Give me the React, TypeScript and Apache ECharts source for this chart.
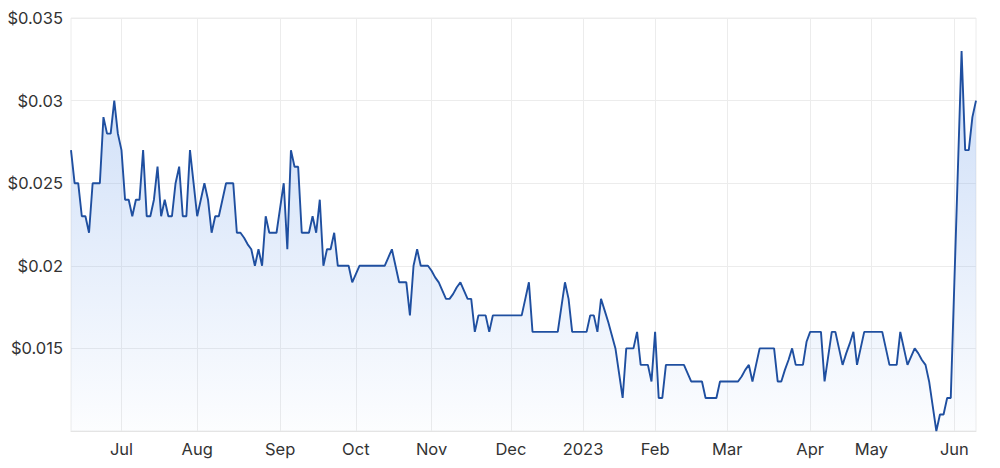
import React, { useEffect, useRef } from 'react';
import * as echarts from 'echarts';

// trading calendar (ASX), one point per trading day
const startDate = '2022-06-10';
const endDate = '2023-06-09';
const holidays = [
  '2022-06-13', '2022-09-22', '2022-12-26', '2022-12-27',
  '2023-01-02', '2023-01-26', '2023-04-07', '2023-04-10', '2023-04-25',
];

// closing prices ($), month by month
const jun22 = [0.027, 0.025, 0.025, 0.023, 0.023, 0.022, 0.025, 0.025, 0.025, 0.029, 0.028, 0.028, 0.030, 0.028];
const jul22 = [0.027, 0.024, 0.024, 0.023, 0.024, 0.024, 0.027, 0.023, 0.023, 0.024, 0.026, 0.023, 0.024, 0.023, 0.023, 0.025, 0.026, 0.023, 0.023, 0.027, 0.025];
const aug22 = [0.023, 0.024, 0.025, 0.024, 0.022, 0.023, 0.023, 0.024, 0.025, 0.025, 0.025, 0.022, 0.022, 0.0217, 0.0213, 0.021, 0.020, 0.021, 0.020, 0.023, 0.022, 0.022, 0.022];
const sep22 = [0.0235, 0.025, 0.021, 0.027, 0.026, 0.026, 0.022, 0.022, 0.022, 0.023, 0.022, 0.024, 0.020, 0.021, 0.021, 0.022, 0.020, 0.020, 0.020, 0.020, 0.019];
const oct22 = [0.0195, 0.020, 0.020, 0.020, 0.020, 0.020, 0.020, 0.020, 0.020, 0.0205, 0.021, 0.020, 0.019, 0.019, 0.019, 0.017, 0.020, 0.021, 0.020, 0.020, 0.020];
const nov22 = [0.0197, 0.0193, 0.019, 0.0185, 0.018, 0.018, 0.0183, 0.0187, 0.019, 0.0185, 0.018, 0.018, 0.016, 0.017, 0.017, 0.017, 0.016, 0.017, 0.017, 0.017, 0.017, 0.017];
const dec22 = [0.017, 0.017, 0.017, 0.017, 0.018, 0.019, 0.016, 0.016, 0.016, 0.016, 0.016, 0.016, 0.016, 0.016, 0.0175, 0.019, 0.018, 0.016, 0.016, 0.016];
const jan23 = [0.016, 0.016, 0.017, 0.017, 0.016, 0.018, 0.0173, 0.0166, 0.0158, 0.015, 0.0135, 0.012, 0.015, 0.015, 0.015, 0.016, 0.014, 0.014, 0.014, 0.013];
const feb23 = [0.016, 0.012, 0.012, 0.014, 0.014, 0.014, 0.014, 0.014, 0.014, 0.0135, 0.013, 0.013, 0.013, 0.013, 0.012, 0.012, 0.012, 0.012, 0.013, 0.013];
const mar23 = [0.013, 0.013, 0.013, 0.013, 0.0133, 0.0137, 0.014, 0.013, 0.014, 0.015, 0.015, 0.015, 0.015, 0.015, 0.013, 0.013, 0.0137, 0.0143, 0.015, 0.014, 0.014, 0.014, 0.0154];
const apr23 = [0.016, 0.016, 0.016, 0.016, 0.013, 0.0145, 0.016, 0.016, 0.015, 0.014, 0.0147, 0.0153, 0.016, 0.014, 0.015, 0.016, 0.016];
const may23 = [0.016, 0.016, 0.016, 0.016, 0.015, 0.014, 0.014, 0.014, 0.016, 0.015, 0.014, 0.0145, 0.015, 0.0147, 0.0143, 0.014, 0.013, 0.0115, 0.010, 0.011, 0.011, 0.012, 0.012];
const jun23 = [0.019, 0.026, 0.033, 0.027, 0.027, 0.029, 0.030];

const prices = [
  ...jun22, ...jul22, ...aug22, ...sep22, ...oct22, ...nov22,
  ...dec22, ...jan23, ...feb23, ...mar23, ...apr23, ...may23, ...jun23,
];

const monthNames = ['Jan', 'Feb', 'Mar', 'Apr', 'May', 'Jun', 'Jul', 'Aug', 'Sep', 'Oct', 'Nov', 'Dec'];

const yMin = 0.01;
const yMax = 0.035;
const yStep = 0.005;

function tradingDays(): string[] {
  const out: string[] = [];
  const d = new Date(startDate + 'T00:00:00Z');
  const end = new Date(endDate + 'T00:00:00Z');
  while (d <= end) {
    const key = d.toISOString().slice(0, 10);
    const wd = d.getUTCDay();
    if (wd !== 0 && wd !== 6 && holidays.indexOf(key) < 0) out.push(key);
    d.setUTCDate(d.getUTCDate() + 1);
  }
  return out;
}

const dates = tradingDays();

// first trading day of a month gets a gridline + label
const isMonthStart = (i: number) => i > 0 && dates[i].slice(0, 7) !== dates[i - 1].slice(0, 7);

const App: React.FC = () => {
  const chartRef: any = useRef(null);

  useEffect(() => {
    const chart = echarts.init(chartRef.current, undefined, { renderer: 'svg' });
    const gridColor = '#ececec';
    const option = {
      animation: false,
      grid: { left: 71, right: 24, top: 18, bottom: 37, show: true, borderColor: gridColor, borderWidth: 1 },
      xAxis: {
        type: 'category',
        data: dates,
        boundaryGap: false,
        axisLine: { lineStyle: { color: '#e4e4e4' } },
        axisTick: { show: false },
        axisLabel: {
          interval: (i: number) => isMonthStart(i),
          formatter: (v: string) => {
            const m = Number(v.slice(5, 7));
            return m === 1 ? v.slice(0, 4) : monthNames[m - 1];
          },
          color: '#333',
          fontFamily: 'Inter',
          fontSize: 16.5,
          margin: 9,
        },
        splitLine: {
          show: true,
          interval: (i: number) => isMonthStart(i),
          lineStyle: { color: gridColor },
        },
      },
      yAxis: {
        type: 'value',
        min: yMin,
        max: yMax,
        interval: yStep,
        axisLine: { show: false },
        axisTick: { show: false },
        axisLabel: {
          showMinLabel: false,
          formatter: (v: number) => '$' + parseFloat(v.toFixed(3)),
          color: '#333',
          fontFamily: 'Inter',
          fontSize: 16.5,
          margin: 8,
        },
        splitLine: { lineStyle: { color: gridColor } },
      },
      series: [
        {
          type: 'line',
          data: prices,
          showSymbol: false,
          symbol: 'none',
          lineStyle: { color: '#1f4fa0', width: 1.9 },
          areaStyle: {
            color: new echarts.graphic.LinearGradient(0, 0, 0, 1, [
              { offset: 0, color: 'rgba(122,166,235,0.55)' },
              { offset: 1, color: 'rgba(122,166,235,0.03)' },
            ]),
          },
        },
      ],
    };
    chart.setOption(option);
    return () => {
      chart.dispose();
    };
  }, []);

  return (
    <div
      ref={chartRef}
      style={{ position: 'fixed', left: 0, top: 0, width: 1000, height: 468, background: '#fff' }}
    ></div>
  );
};

export default App;
